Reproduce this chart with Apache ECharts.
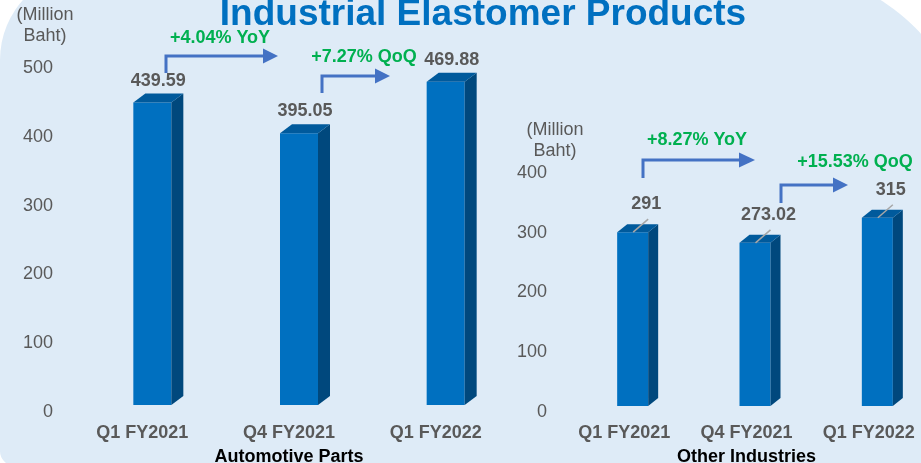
<!DOCTYPE html>
<html>
<head>
<meta charset="utf-8">
<script src="https://cdn.jsdelivr.net/npm/echarts@6/dist/echarts.min.js"></script>
<style>
    html, body { margin: 0; padding: 0; background: #fff; }
    #chart { width: 921px; height: 463px; }
</style>
</head>
<body>
<div id="chart"></div>
<script>
// data
const quarters = ['Q1 FY2021', 'Q4 FY2021', 'Q1 FY2022'];
const autoValues = [439.59, 395.05, 469.88];
const otherValues = [291, 273.02, 315];
const autoTicks = [0, 100, 200, 300, 400, 500];
const otherTicks = [0, 100, 200, 300, 400];
const changeLabels = ['+4.04% YoY', '+7.27% QoQ', '+8.27% YoY', '+15.53% QoQ'];

const FONT = '"Liberation Sans", Arial, sans-serif';
const GRAY = '#595959';
const FRONT = '#0070C0';
const SIDE = '#00487D';
const TOP = '#005A9C';

const chart = echarts.init(document.getElementById('chart'));

// 3D looking bar: front face, right side and top
const make3DBar = cfg => (params, api) => {
    const c = api.coord([api.value(0), api.value(1)]);
    const base = api.coord([api.value(0), 0]);
    const x0 = c[0] + cfg.offsetX;
    const x1 = x0 + cfg.width;
    const yTop = c[1] - cfg.lift;
    const yBot = base[1] - cfg.lift;
    const dx = cfg.depthX, dy = cfg.depthY;
    const children = [
        { type: 'rect', shape: { x: x0, y: yTop, width: x1 - x0, height: yBot - yTop }, style: { fill: FRONT } },
        { type: 'polygon', shape: { points: [[x1, yTop], [x1 + dx, yTop - dy], [x1 + dx, yBot - dy], [x1, yBot]] }, style: { fill: SIDE } },
        { type: 'polygon', shape: { points: [[x0, yTop], [x0 + dx, yTop - dy], [x1 + dx, yTop - dy], [x1, yTop]] }, style: { fill: TOP } }
    ];
    if (cfg.leader) {
        children.push({
            type: 'line',
            shape: { x1: c[0] + 9, y1: yTop, x2: c[0] + 24, y2: yTop - 13 },
            style: { stroke: '#A6A6A6', lineWidth: 1.5 }
        });
    }
    children.push({
        type: 'text',
        style: {
            text: String(api.value(1)),
            x: c[0] + cfg.labelDX,
            y: yTop - dy - cfg.labelDY,
            align: 'center',
            verticalAlign: 'middle',
            font: 'bold 18px ' + FONT,
            fill: GRAY
        }
    });
    return { type: 'group', children };
};

// bent arrow from above a bar towards the next one
const arrow = (x, yStart, yTop, xHead, xEnd) => ({
    type: 'group',
    children: [
        { type: 'polyline', shape: { points: [[x, yStart], [x, yTop], [xHead, yTop]] }, style: { stroke: '#4472C4', lineWidth: 3, fill: null } },
        { type: 'polygon', shape: { points: [[xHead, yTop - 7.5], [xEnd, yTop], [xHead, yTop + 7.5]] }, style: { fill: '#4472C4' } }
    ]
});

const changeText = (text, x, y) => ({
    type: 'text',
    style: { text, x, y, align: 'center', verticalAlign: 'middle', font: 'bold 18px ' + FONT, fill: '#00B050' }
});

const unitText = (x, y) => ({
    type: 'text',
    style: { text: '(Million\nBaht)', x, y, align: 'center', verticalAlign: 'middle', font: '18px ' + FONT, lineHeight: 21, fill: GRAY }
});

const xAxisCommon = {
    type: 'category',
    data: quarters,
    axisLine: { show: false },
    axisTick: { show: false },
    nameLocation: 'middle',
    nameGap: 36,
    nameTextStyle: { fontFamily: FONT, fontSize: 18, fontWeight: 'bold', color: '#000' },
    axisLabel: { interval: 0, margin: 12, fontFamily: FONT, fontSize: 18, fontWeight: 'bold', color: GRAY }
};

const yAxisCommon = {
    type: 'value',
    min: 0,
    interval: 100,
    axisLine: { show: false },
    axisTick: { show: false },
    splitLine: { show: false },
    axisLabel: { margin: 16, fontFamily: FONT, fontSize: 18, color: GRAY }
};

const options = {
    backgroundColor: '#fff',
    animation: false,
    grid: [
        { left: 69, width: 440, top: 68, height: 344, outerBoundsMode: 'none', containLabel: false },
        { left: 563, width: 367, top: 173, height: 239, outerBoundsMode: 'none', containLabel: false }
    ],
    xAxis: [
        Object.assign({}, xAxisCommon, { gridIndex: 0, name: 'Automotive Parts' }),
        Object.assign({}, xAxisCommon, { gridIndex: 1, name: 'Other Industries' })
    ],
    yAxis: [
        Object.assign({}, yAxisCommon, { gridIndex: 0, max: autoTicks[autoTicks.length - 1] }),
        Object.assign({}, yAxisCommon, { gridIndex: 1, max: otherTicks[otherTicks.length - 1] })
    ],
    graphic: [
        // panel
        {
            type: 'rect',
            z: -10,
            silent: true,
            shape: { x: 0, y: -30, width: 973, height: 496, r: [90, 197, 15, 15] },
            style: { fill: '#DEEBF7' }
        },
        {
            type: 'text',
            style: {
                text: 'Industrial Elastomer Products',
                x: 483, y: 15,
                align: 'center', verticalAlign: 'middle',
                font: 'bold 37px ' + FONT,
                fill: '#0070C0'
            }
        },
        unitText(45, 26),
        unitText(555, 141),
        arrow(166, 73, 56, 263, 278),
        arrow(322, 93, 76, 375, 390),
        arrow(643, 178, 160, 739, 755),
        arrow(781, 203, 185, 833, 848),
        changeText(changeLabels[0], 220, 38),
        changeText(changeLabels[1], 364, 57),
        changeText(changeLabels[2], 697, 140),
        changeText(changeLabels[3], 855, 162)
    ],
    series: [
        {
            type: 'custom',
            xAxisIndex: 0,
            yAxisIndex: 0,
            renderItem: make3DBar({ offsetX: -9, width: 38, depthX: 12, depthY: 9, lift: 7, labelDX: 16, labelDY: 13, leader: false }),
            data: autoValues.map((v, i) => [i, v])
        },
        {
            type: 'custom',
            xAxisIndex: 1,
            yAxisIndex: 1,
            renderItem: make3DBar({ offsetX: -7, width: 31, depthX: 10, depthY: 8, lift: 6, labelDX: 22, labelDY: 20, leader: true }),
            data: otherValues.map((v, i) => [i, v])
        }
    ]
};

chart.setOption(options);
</script>
</body>
</html>
